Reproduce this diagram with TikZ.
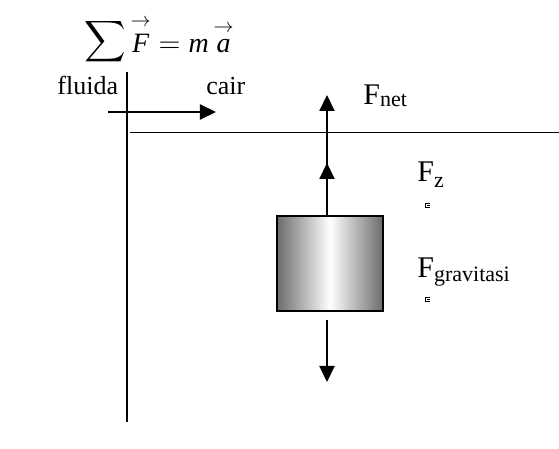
\documentclass[tikz,border=0pt]{standalone}
\usepackage{amsmath}
\usepackage{fontspec}
\setmainfont{Liberation Serif}
\usetikzlibrary{arrows.meta}

% lowered subscript in text font
\newcommand{\lowsub}[2]{\raisebox{-#1}{\fontsize{11}{13}\selectfont #2}}
% vector with a raised arrow
\newcommand{\vekt}[1]{\mathord{\overset{\raisebox{1pt}{$\scriptstyle\rightarrow$}}{\textit{#1}}}}

\tikzset{
  lbl/.style={anchor=base west, inner sep=0pt},
  force/.style={line width=1.1pt, ->},
  tinymark/.style={line width=0.4pt}
}

\begin{document}
\begin{tikzpicture}[x=0.5pt, y=-0.5pt, >={Triangle[length=8pt,width=7.5pt]},
    font=\fontsize{13}{15}\selectfont]

    \useasboundingbox (0,0) rectangle (559,449);

    % --- NEWTON'S LAW ---
    \node[anchor=base, inner sep=0pt, font=\fontsize{14}{16}\selectfont] (hukum) at (159,53)
      {$\raisebox{2pt}{$\displaystyle\sum$}\,\vekt{F}=\textit{m}\,\vekt{a}$};

    % --- FLUID SIDE ---
    \node[lbl] (fluida) at (57,95) {fluida};
    \node[lbl] (cair) at (206,95) {cair};

    \coordinate (vtop) at (127,72);
    \coordinate (vbot) at (127,422);
    \draw[line width=0.8pt] (vtop) -- (vbot);

    \coordinate (flowA) at (108,112);
    \coordinate (flowB) at (216,112);
    \draw[force] (flowA) -- (flowB);

    % surface line
    \coordinate (surfL) at (130,133);
    \coordinate (surfR) at (559,133);
    \draw[line width=0.5pt] (surfL) -- (surfR);

    % --- BODY IN FLUID ---
    \node[draw, line width=1pt, minimum width=53pt, minimum height=47.5pt,
          left color=black!58, right color=black!58, middle color=white]
          (benda) at (330,263.5) {};

    \coordinate (bup) at (327,216);
    \coordinate (netTip) at (327,95);
    \coordinate (zTip) at (327,163);
    \draw[force] (bup) -- (netTip);
    \draw[force] (bup) -- (zTip);

    \coordinate (gTail) at (327,320);
    \coordinate (gTip) at (327,382);
    \draw[force] (gTail) -- (gTip);

    % force labels
    \node[lbl, font=\fontsize{15}{17}\selectfont] (Fnet) at (363,105) {F\lowsub{1pt}{net}};
    \node[lbl, font=\fontsize{15}{17}\selectfont] (Fz) at (417,182) {F\lowsub{3pt}{z}};
    \node[lbl, font=\fontsize{15}{17}\selectfont] (Fgrav) at (417,278) {F\lowsub{2pt}{gravitasi}};

    % tiny marks under the labels
    \foreach \my in {205,299} {
      \draw[tinymark] (430,\my-2) -- (425,\my-2) -- (425,\my+2) -- (430,\my+2);
      \draw[tinymark] (427,\my) -- (430,\my);
    }

\end{tikzpicture}
\end{document}
